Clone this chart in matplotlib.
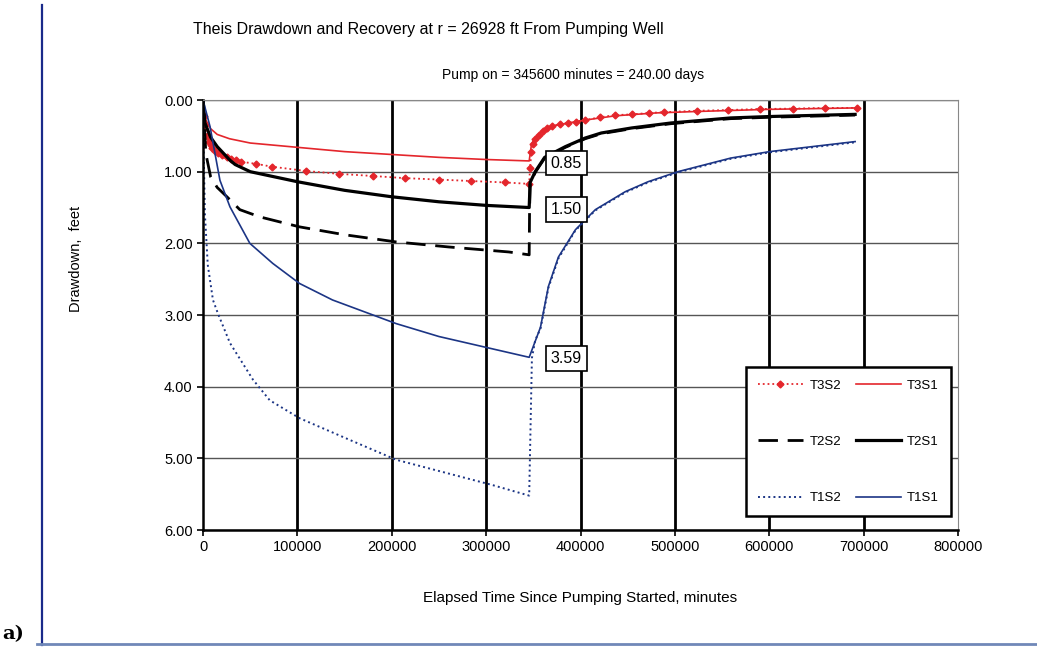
import matplotlib
matplotlib.use("Agg")
import matplotlib.pyplot as plt
from matplotlib.lines import Line2D
import numpy as np

plt.rcParams['font.family'] = ['Liberation Sans', 'DejaVu Sans']

# pumping phase (0 .. 345600 min) and recovery phase, drawdown in feet
t3s1_t = [0, 1000, 3000, 8000, 15000, 28000, 50000, 100000, 150000, 200000, 250000, 300000, 345600,
          348000, 352000, 360000, 372000, 387000, 410000, 437000, 480000, 523000, 600000, 693000]
t3s1_d = [0.0, 0.15, 0.28, 0.40, 0.48, 0.54, 0.60, 0.66, 0.72, 0.76, 0.80, 0.83, 0.85,
          0.62, 0.52, 0.42, 0.36, 0.32, 0.27, 0.22, 0.18, 0.16, 0.13, 0.11]

t3s2_t = [1000, 2000, 4000, 6000, 8000, 10000, 13000, 16000, 20000, 25000, 30000, 35000, 40000,
          56000, 73000, 109000, 144000, 180000, 214000, 250000, 284000, 320000, 345600,
          346500, 348000, 350000, 352000, 355500, 360000, 364000, 370000, 378000, 387000, 395000,
          405000, 421000, 437000, 455000, 473000, 488000, 523000, 556000, 590000, 625000, 659000, 693000]
t3s2_d = [0.22, 0.35, 0.50, 0.58, 0.63, 0.67, 0.71, 0.74, 0.77, 0.80, 0.82, 0.84, 0.86,
          0.89, 0.93, 0.99, 1.03, 1.06, 1.09, 1.11, 1.13, 1.15, 1.17,
          0.95, 0.72, 0.62, 0.55, 0.49, 0.43, 0.39, 0.36, 0.34, 0.32, 0.30,
          0.28, 0.24, 0.21, 0.20, 0.18, 0.17, 0.15, 0.14, 0.125, 0.12, 0.11, 0.11]

t2s1_t = [0, 2000, 8000, 15000, 28500, 34000, 50000, 100000, 150000, 200000, 250000, 300000, 345600,
          346600, 352000, 362000, 384000, 405000, 422000, 454000, 496000, 559000, 601000, 691000]
t2s1_d = [0.0, 0.32, 0.52, 0.65, 0.84, 0.90, 1.00, 1.14, 1.26, 1.35, 1.42, 1.47, 1.50,
          1.15, 1.00, 0.80, 0.65, 0.53, 0.46, 0.39, 0.32, 0.25, 0.23, 0.20]

t2s2_t = [0, 3000, 8000, 15000, 25300, 39000, 60000, 102300, 150000, 204700, 260000, 324000, 345600,
          346000, 346600, 352000, 362000, 384000, 405000, 422000, 454000, 496000, 559000, 601000, 691000]
t2s2_d = [0.0, 0.75, 1.07, 1.22, 1.35, 1.53, 1.63, 1.77, 1.88, 1.98, 2.05, 2.12, 2.16,
          1.55, 1.17, 1.01, 0.81, 0.66, 0.54, 0.47, 0.40, 0.33, 0.26, 0.24, 0.21]

t1s1_t = [0, 3000, 7400, 17900, 28500, 49600, 73900, 102300, 137200, 204700, 250000, 306000, 345600,
          357600, 366000, 376600, 394600, 415700, 447300, 471600, 503200, 559200, 600300, 691000]
t1s1_d = [0.0, 0.15, 0.37, 1.12, 1.49, 2.00, 2.28, 2.56, 2.79, 3.12, 3.30, 3.47, 3.59,
          3.17, 2.60, 2.19, 1.81, 1.53, 1.28, 1.14, 1.00, 0.81, 0.72, 0.58]

t1s2_t = [0, 1000, 2000, 5000, 10500, 15800, 28500, 52800, 70700, 102300, 155000, 204700, 306000, 345600,
          348500, 352000, 357600, 366000, 376600, 394600, 415700, 447300, 471600, 503200, 559200, 600300, 691000]
t1s2_d = [0.0, 0.93, 1.60, 2.30, 2.79, 2.98, 3.39, 3.90, 4.19, 4.44, 4.74, 5.02, 5.37, 5.52,
          3.60, 3.35, 3.19, 2.62, 2.21, 1.82, 1.54, 1.29, 1.15, 1.01, 0.82, 0.73, 0.59]

end_labels = ["0.85", "1.50", "3.59"]
label_y = [0.88, 1.53, 3.61]

RED = '#e4262c'
BLUE = '#1c3585'

fig = plt.figure(figsize=(10.37, 6.47), dpi=100)
ax = fig.add_axes([0.1958, 0.1808, 0.728, 0.6646])

ax.plot(t3s1_t, t3s1_d, '-', color=RED, lw=1.2, label='T3S1')
ax.plot(t3s2_t, t3s2_d, ':', color=RED, lw=1.3, marker='D', ms=3.5, label='T3S2')
ax.plot(t2s2_t, t2s2_d, '--', color='black', lw=2.0, dashes=(7, 3.5), label='T2S2')
ax.plot(t2s1_t, t2s1_d, '-', color='black', lw=2.3, label='T2S1')
ax.plot(t1s2_t, t1s2_d, ':', color=BLUE, lw=1.4, label='T1S2')
ax.plot(t1s1_t, t1s1_d, '-', color=BLUE, lw=1.2, label='T1S1')

ax.set_xlim(0, 800000)
ax.set_ylim(6, 0)
xt = np.arange(0, 800001, 100000)
ax.set_xticks(xt)
ax.set_xticklabels([str(v) for v in xt])
ax.set_yticks(np.arange(0, 7))
ax.set_yticklabels(['%.2f' % v for v in range(7)])
ax.tick_params(labelsize=10.5, direction='out', length=4, width=1.2)

for v in xt[1:-1]:
    ax.axvline(v, color='black', lw=2.0, zorder=0.5)
ax.yaxis.grid(True, color='#555555', lw=1.0)
ax.set_axisbelow(True)

for s in ['left', 'bottom']:
    ax.spines[s].set_linewidth(1.8)
for s in ['top', 'right']:
    ax.spines[s].set_linewidth(0.8)
    ax.spines[s].set_color('#888888')

for lab, y in zip(end_labels, label_y):
    ax.text(385000, y, lab, fontsize=11.5, ha='center', va='center', zorder=6,
            bbox=dict(boxstyle='square,pad=0.3', fc='white', ec='black', lw=1.2))

h, l = ax.get_legend_handles_labels()
order = [1, 2, 4, 0, 3, 5]
leg = ax.legend([h[i] for i in order], [l[i] for i in order], ncol=2, loc='center',
                bbox_to_anchor=(0.855, 0.205),
                fontsize=9.5, labelspacing=3.35, handlelength=3.4, handletextpad=0.5,
                columnspacing=1.1, fancybox=False, framealpha=1, borderpad=0.9)
leg.get_frame().set_edgecolor('black')
leg.get_frame().set_linewidth(1.8)

fig.text(0.413, 0.955, 'Theis Drawdown and Recovery at r = 26928 ft From Pumping Well',
         ha='center', va='center', fontsize=11.5)
fig.text(0.553, 0.884, 'Pump on = 345600 minutes = 240.00 days',
         ha='center', va='center', fontsize=10)
ax.set_xlabel('Elapsed Time Since Pumping Started, minutes', fontsize=11, labelpad=26)
fig.text(0.073, 0.6, 'Drawdown,  feet', rotation=90, ha='center', va='center', fontsize=10.5)

fig.add_artist(Line2D([0.0405, 0.0405], [0.003, 0.992], transform=fig.transFigure,
                      color='#1a2a8a', lw=1.6))
fig.add_artist(Line2D([0.036, 1.0], [0.004, 0.004], transform=fig.transFigure,
                      color='#7088b8', lw=2.0))
fig.text(0.002, 0.006, 'a)', fontsize=14, fontweight='bold', family='DejaVu Serif',
         ha='left', va='bottom')

fig.savefig('out.png', dpi=100)
